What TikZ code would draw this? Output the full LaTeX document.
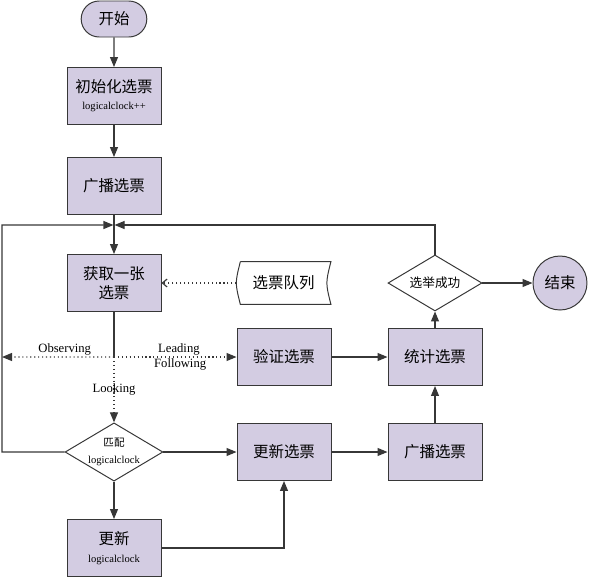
\documentclass[tikz,border=0pt]{standalone}
\usepackage{fontspec}
\setmainfont{Liberation Serif}
\newfontfamily\cjk{Noto Sans CJK SC}
\usetikzlibrary{arrows.meta,shapes.geometric,shapes.misc}

\definecolor{votefill}{RGB}{211,204,226}
\definecolor{edgegray}{RGB}{55,55,55}

\newcommand{\smallrm}[1]{{\rmfamily\fontsize{7.5}{9}\selectfont #1}}

\tikzset{
	stepbox/.style={rectangle,draw=edgegray,fill=votefill,line width=0.7pt,minimum width=2.35cm,minimum height=1.425cm,align=center,font=\cjk\fontsize{11}{14}\selectfont},
	terminal/.style={rounded rectangle,draw=edgegray,fill=votefill,line width=0.7pt,minimum width=1.875cm,minimum height=0.9cm,font=\cjk\fontsize{11}{14}\selectfont},
	decision/.style={diamond,draw=edgegray,fill=white,line width=0.7pt,aspect=1.68,inner sep=0pt,minimum width=2.35cm,minimum height=1.4cm,align=center},
	flow/.style={-{Triangle[length=2.5mm,width=2mm]},draw=edgegray,line width=0.8pt},
	dotflow/.style={flow,dotted},
	plain line/.style={draw=edgegray,line width=0.8pt},
	edge label/.style={font=\fontsize{9}{11}\selectfont,inner sep=1pt}
}

\begin{document}
\begin{tikzpicture}[node distance=2.4cm]
	\useasboundingbox (0,0) rectangle (14.825,-14.625);

	\node (start) [terminal] at (2.85,-0.475) {开始};
	\node (init vote) [stepbox,below of=start,node distance=1.925cm] {初始化选票\\[-2pt]\smallrm{logicalclock++}};
	\node (bcast vote) [stepbox,below of=init vote,node distance=2.25cm] {广播选票};
	\node (fetch vote) [stepbox,below of=bcast vote,node distance=2.425cm] {获取一张\\选票};
	\node (match clock) [decision,below of=fetch vote,node distance=4.225cm] {{\cjk\fontsize{7.5}{9}\selectfont 匹配}\\\smallrm{logicalclock}};
	\node (update clock) [stepbox,below of=match clock] {更新\\[-1pt]\smallrm{logicalclock}};

	\node (update vote) [stepbox,right of=match clock,node distance=4.25cm] {更新选票};
	\node (bcast again) [stepbox,right of=update vote,node distance=3.775cm] {广播选票};
	\node (count vote) [stepbox,above of=bcast again,node distance=2.375cm] {统计选票};
	\node (verify vote) [stepbox,left of=count vote,node distance=3.775cm] {验证选票};
	\node (elect ok) [decision,above of=count vote,node distance=1.85cm,font=\cjk\fontsize{9}{11}\selectfont] {选举成功};
	\node (finish) [circle,draw=edgegray,fill=votefill,line width=0.7pt,minimum size=1.35cm,right of=elect ok,node distance=3.125cm,font=\cjk\fontsize{11}{14}\selectfont] {结束};

	% vote queue: stored data shape
	\node (vote queue) [rectangle,minimum width=2.35cm,minimum height=1.05cm,right of=fetch vote,node distance=4.24cm,font=\cjk\fontsize{11}{14}\selectfont] {选票队列};
	\draw[edgegray,line width=0.7pt] ([xshift=0.1cm]vote queue.north west) -- (vote queue.north east)
		.. controls ([xshift=-0.133cm]vote queue.east) .. (vote queue.south east)
		-- ([xshift=0.1cm]vote queue.south west)
		.. controls ([xshift=-0.033cm]vote queue.west) .. ([xshift=0.1cm]vote queue.north west);

	\node (merge) [coordinate,above of=fetch vote,node distance=1.45cm] {};
	\node (branch) [coordinate,below of=fetch vote,node distance=1.85cm] {};
	\coordinate (loop top) at (0.05,-5.625);
	\coordinate (loop bottom) at (0.05,-11.3);
	\coordinate (observe end) at (0.05,-8.925);

	\draw[flow] (start) -- (init vote);
	\draw[flow] (init vote) -- (bcast vote);
	\draw[flow] (bcast vote) -- (fetch vote);
	\draw[dotflow,-{Straight Barb[length=1.2mm,width=2mm]}] (vote queue.west) -- (fetch vote.east);

	\draw[plain line] (fetch vote) -- (branch);
	\draw[dotflow] (branch) -- node[edge label,pos=0.49] {Looking} (match clock);
	\draw[dotflow] (branch) -- node[edge label,pos=0.44,above] {Observing} (observe end);
	\draw[dotflow] (branch) -- node[edge label,pos=0.53,above] {Leading} node[edge label,pos=0.54,below] {Following} (verify vote);

	\draw[flow] (match clock.west) -- (loop bottom) -- (loop top) -- ([xshift=-0.4pt]merge);
	\draw[flow] (elect ok.north) |- ([xshift=0.4pt]merge);

	\draw[flow] (match clock.east) -- (update vote.west);
	\draw[flow] (match clock.south) -- (update clock.north);
	\draw[flow] (update clock.east) -| (update vote.south);
	\draw[flow] (update vote) -- (bcast again);
	\draw[flow] (bcast again) -- (count vote);
	\draw[flow] (verify vote) -- (count vote);
	\draw[flow] (count vote) -- (elect ok);
	\draw[flow] (elect ok) -- (finish);
\end{tikzpicture}
\end{document}
